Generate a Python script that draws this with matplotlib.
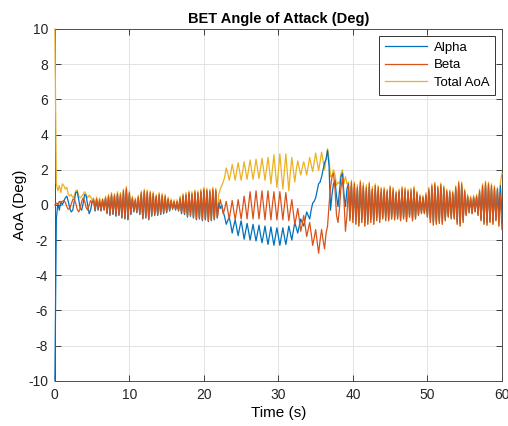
import numpy as np
import matplotlib
matplotlib.use('Agg')
import matplotlib.pyplot as plt

plt.rcParams['font.family'] = ['Liberation Sans', 'DejaVu Sans']
plt.rcParams['axes.unicode_minus'] = False

# sample step of the logged signals (s)
dt = 0.2

# segment A: 0 .. 21.8 s
alpha_a = [-10, -0.8, 0.1, -0.3, 0.2, 0.0, 0.2, 0.4, 0.5, 0.2, -0.2, -0.4, -0.3, 0.2, 0.7, 0.75,
           0.3, -0.2, -0.3, 0.1, 0.6, 0.5, 0.0, -0.5, -0.3, 0.2,
           0.25, -0.35, 0.3, -0.3, 0.2, -0.35, 0.3, -0.25, 0.35, -0.5,
           0.45, -0.6, 0.5, -0.55, 0.5, -0.65, 0.55, -0.6, 0.5, -0.75,
           0.7, -0.8, 0.85, -0.85, 0.6, -0.55, 0.35, -0.4, 0.25, -0.45,
           0.4, -0.55, 0.6, -0.8, 0.7, -0.75, 0.65, -0.85, 0.6, -0.65,
           0.55, -0.6, 0.45, -0.6, 0.5, -0.55, 0.45, -0.5, 0.4, -0.45,
           0.3, -0.35, 0.2, -0.25, 0.15, -0.3, 0.15, -0.35, 0.3, -0.5,
           0.45, -0.55, 0.5, -0.7, 0.6, -0.65, 0.55, -0.75, 0.65, -0.85,
           0.6, -0.8, 0.7, -0.9, 0.8, -0.85, 0.75, -0.95, 0.7, -0.9,
           0.8, -0.85, 0.75, -0.75]
beta_a = [0.0, 0.1, 0.0, 0.2, 0.1, 0.2, 0.25, 0.15, -0.1, -0.25, -0.2, 0.05, 0.3, 0.35, 0.1, -0.25,
          -0.4, -0.2, 0.2, 0.4, 0.2, -0.15, -0.3, 0.0, 0.25, 0.1,
          0.3, -0.3, 0.35, -0.25, 0.3, -0.3, 0.25, -0.3, 0.4, -0.45,
          0.5, -0.55, 0.6, -0.5, 0.55, -0.6, 0.65, -0.55, 0.6, -0.7,
          0.8, -0.75, 0.95, -0.8, 0.7, -0.5, 0.4, -0.35, 0.3, -0.4,
          0.45, -0.5, 0.7, -0.75, 0.8, -0.7, 0.75, -0.8, 0.7, -0.6,
          0.65, -0.55, 0.5, -0.55, 0.6, -0.5, 0.55, -0.45, 0.5, -0.4,
          0.35, -0.3, 0.25, -0.2, 0.2, -0.25, 0.2, -0.3, 0.4, -0.45,
          0.55, -0.5, 0.6, -0.65, 0.7, -0.6, 0.65, -0.7, 0.75, -0.8,
          0.7, -0.75, 0.8, -0.85, 0.9, -0.8, 0.85, -0.9, 0.8, -0.85,
          0.9, -0.8, 0.85, -0.7]
total_a = [10, 1.2, 0.8, 1.1, 0.7, 1.2, 1.1, 0.9, 1.0, 0.6, 0.5, 0.6, 0.4, 0.5, 0.8, 0.85,
           0.5, 0.4, 0.5, 0.6, 0.75, 0.6, 0.4, 0.55, 0.45, 0.3,
           0.4, -0.3, 0.45, -0.25, 0.4, -0.3, 0.35, -0.3, 0.5, -0.45,
           0.6, -0.55, 0.7, -0.5, 0.65, -0.6, 0.75, -0.55, 0.7, -0.7,
           0.9, -0.75, 1.05, -0.8, 0.8, -0.5, 0.5, -0.35, 0.4, -0.4,
           0.55, -0.5, 0.8, -0.75, 0.9, -0.7, 0.85, -0.8, 0.8, -0.6,
           0.75, -0.55, 0.6, -0.55, 0.7, -0.5, 0.65, -0.45, 0.6, -0.4,
           0.45, -0.3, 0.35, -0.2, 0.3, -0.25, 0.3, -0.3, 0.5, -0.45,
           0.65, -0.5, 0.7, -0.65, 0.8, -0.6, 0.75, -0.7, 0.85, -0.8,
           0.8, -0.75, 0.9, -0.85, 1.0, -0.8, 0.95, -0.9, 0.9, -0.85,
           1.0, -0.8, 0.95, -0.7]

# segment B: 22.0 .. 36.8 s (coning phase)
alpha_b = [0.1, -0.2, 0.0, -0.4, -0.7, -1.1, -0.9, -0.7, -1.1, -1.6,
           -1.2, -0.85, -1.3, -1.75, -1.3, -0.9, -1.4, -1.95, -1.5, -1.05,
           -1.5, -2.0, -1.55, -1.1, -1.6, -2.05, -1.6, -1.15, -1.7, -2.15,
           -1.7, -1.2, -1.75, -2.25, -1.75, -1.25, -1.8, -2.3, -1.8, -1.3,
           -1.8, -2.3, -1.8, -1.3, -1.8, -2.25, -1.75, -1.2, -1.6, -2.0,
           -1.5, -1.0, -1.3, -1.6, -1.2, -0.8, -1.0, -1.2, -0.8, -0.4,
           -0.6, -0.8, -0.3, 0.1, 0.2, 0.4, 0.8, 1.2, 1.3, 1.6,
           2.0, 2.4, 2.6, 3.1, 2.2]
beta_b = [-0.2, 0.3, -0.1, -0.5, -0.2, 0.2, -0.3, -0.8, -0.3, 0.25,
          -0.3, -0.85, -0.3, 0.3, -0.25, -0.8, -0.2, 0.5, -0.1, -0.8,
          0.0, 0.75, 0.0, -0.8, 0.0, 0.8, 0.0, -0.8, 0.0, 0.8,
          0.0, -0.85, 0.0, 0.8, 0.0, -0.85, 0.0, 0.75, -0.05, -0.85,
          -0.05, 0.75, -0.05, -0.85, -0.1, 0.7, -0.1, -0.9, -0.3, 0.3,
          -0.4, -1.1, -0.7, -0.2, -0.8, -1.5, -1.1, -0.6, -1.2, -1.8,
          -1.4, -1.0, -1.6, -2.3, -1.9, -1.4, -2.1, -2.75, -2.0, -1.4,
          -2.0, -2.5, -1.6, -1.2, 0.0]
total_b = [0.6, 0.9, 1.1, 1.3, 1.6, 2.1, 1.8, 1.4, 1.8, 2.3,
           1.9, 1.4, 1.9, 2.4, 1.9, 1.4, 1.9, 2.45, 1.95, 1.45,
           2.0, 2.55, 2.0, 1.45, 2.0, 2.6, 2.05, 1.5, 2.05, 2.65,
           2.05, 1.4, 2.0, 2.7, 2.0, 1.2, 2.0, 2.85, 1.9, 1.0,
           1.9, 2.9, 1.9, 0.9, 1.9, 2.9, 1.85, 0.8, 1.8, 2.7,
           2.0, 1.3, 2.0, 2.5, 2.1, 1.7, 2.1, 2.45, 2.1, 1.7,
           2.2, 2.7, 2.3, 1.9, 2.4, 2.95, 2.45, 1.95, 2.45, 3.0,
           2.5, 2.0, 2.6, 3.2, 2.6]

# segment C: 37.0 .. 60.0 s
alpha_c = [-0.3, 0.6, 1.2, 1.4, 0.5, -0.1, 0.8, 1.6, 1.8, 0.6, -0.1, 0.9,
           1.2, -0.7, 1.1, -0.8, 1.0, -0.9, 0.9, -1.0, 1.1, -0.8,
           1.0, -1.0, 0.8, -0.9, 1.0, -0.8, 0.8, -0.9, 0.9, -0.7,
           0.8, -0.8, 0.7, -0.7, 0.8, -0.7, 0.7, -0.8, 0.8, -0.7,
           0.75, -0.7, 0.6, -0.7, 0.7, -0.75, 0.8, -0.7, 0.75, -0.8,
           0.7, -0.6, 0.7, -0.75, 0.8, -0.7, 0.6, -0.5, 0.45, -0.4,
           0.4, -0.45, 0.5, -0.6, 0.75, -0.85, 0.95, -1.0, 1.05, -0.95,
           0.85, -0.9, 1.0, -0.95, 0.85, -0.8, 0.7, -0.6, 0.65, -0.7,
           0.6, -0.7, 0.85, -0.95, 1.1, -1.05, 1.05, -0.85, 0.7, -0.5,
           0.45, -0.4, 0.35, -0.45, 0.4, -0.35, 0.45, -0.5, 0.7, -0.8,
           0.95, -0.95, 1.1, -1.0, 1.05, -0.9, 0.95, -0.95, 0.85, -0.8,
           0.9, -0.6, 1.1, -0.5]
beta_c = [1.0, 1.6, 1.8, 0.9, -0.6, -1.0, -0.2, 1.0, 1.5, 0.3, -1.5, -0.6,
          1.1, -0.9, 1.3, -1.0, 1.2, -1.1, 1.0, -1.2, 1.3, -1.0,
          1.1, -1.2, 1.0, -1.1, 1.2, -1.0, 0.9, -1.1, 1.1, -0.9,
          1.0, -1.0, 0.9, -0.8, 0.9, -0.9, 0.8, -0.9, 1.0, -0.8,
          0.9, -0.85, 0.7, -0.8, 0.8, -0.9, 0.95, -0.8, 0.9, -0.95,
          0.8, -0.7, 0.85, -0.9, 0.95, -0.8, 0.7, -0.6, 0.5, -0.5,
          0.45, -0.5, 0.6, -0.7, 0.9, -1.0, 1.1, -1.15, 1.2, -1.1,
          1.0, -1.05, 1.15, -1.1, 1.0, -0.9, 0.8, -0.7, 0.75, -0.8,
          0.7, -0.8, 1.0, -1.1, 1.25, -1.2, 1.2, -1.0, 0.8, -0.6,
          0.5, -0.45, 0.4, -0.5, 0.45, -0.4, 0.5, -0.6, 0.8, -0.9,
          1.1, -1.1, 1.25, -1.15, 1.2, -1.0, 1.1, -1.1, 1.0, -0.9,
          0.8, -1.2, 0.6, -1.4]
total_c = [1.6, 1.7, 2.0, 1.7, 1.1, 1.3, 1.2, 1.8, 2.0, 1.2, 1.6, 1.2,
           1.3, -0.9, 1.4, -1.0, 1.3, -1.1, 1.15, -1.2, 1.4, -1.0,
           1.25, -1.2, 1.15, -1.1, 1.3, -1.0, 1.05, -1.1, 1.2, -0.9,
           1.1, -1.0, 1.0, -0.8, 1.0, -0.9, 0.9, -0.9, 1.1, -0.8,
           1.0, -0.85, 0.8, -0.8, 0.9, -0.9, 1.05, -0.8, 1.0, -0.95,
           0.9, -0.7, 0.95, -0.9, 1.05, -0.8, 0.8, -0.6, 0.6, -0.5,
           0.55, -0.5, 0.7, -0.7, 1.0, -1.0, 1.2, -1.15, 1.3, -1.1,
           1.1, -1.05, 1.25, -1.1, 1.1, -0.9, 0.9, -0.7, 0.85, -0.8,
           0.8, -0.8, 1.1, -1.1, 1.35, -1.2, 1.3, -1.0, 0.9, -0.6,
           0.6, -0.45, 0.5, -0.5, 0.55, -0.4, 0.6, -0.6, 0.9, -0.9,
           1.2, -1.1, 1.35, -1.15, 1.3, -1.0, 1.2, -1.1, 1.1, -0.9,
           1.0, -1.2, 1.3, 1.8]


def series(start, vals):
    return start + dt * np.arange(len(vals)), np.array(vals)


def join(a, b, c):
    ta, va = series(0.0, a)
    tb, vb = series(22.0, b)
    tc, vc = series(37.0, c)
    return np.concatenate([ta, tb, tc]), np.concatenate([va, vb, vc])


t_al, alpha = join(alpha_a, alpha_b, alpha_c)
t_be, beta = join(beta_a, beta_b, beta_c)
t_to, total = join(total_a, total_b, total_c)

fig = plt.figure(figsize=(5.08, 4.26), dpi=100)
ax = fig.add_axes([0.108, 0.106, 0.880, 0.826])

# lines sit above the spines (and unclipped) so the t=0 jumps show on the left axis
l3, = ax.plot(t_to, total, color='#EDB120', lw=0.9, zorder=2.6, clip_on=False)
l1, = ax.plot(t_al, alpha, color='#0072BD', lw=0.9, zorder=2.7, clip_on=False)
l2, = ax.plot(t_be, beta, color='#D95319', lw=0.9, zorder=2.8, clip_on=False)

ax.set_xlim(0, 60)
ax.set_ylim(-10, 10)
ax.set_xticks(np.arange(0, 61, 10))
ax.set_yticks(np.arange(-10, 11, 2))
ax.grid(True, color='#e3e3e3', lw=0.7)
ax.set_axisbelow(True)
ax.tick_params(direction='in', top=True, right=True, length=4, width=0.6,
               labelsize=10, colors='#262626', pad=5)
for s in ax.spines.values():
    s.set_color('#4d4d4d')
    s.set_linewidth(0.7)

ax.set_title('BET Angle of Attack (Deg)', fontsize=10.5, fontweight='bold', pad=4)
ax.set_xlabel('Time (s)', fontsize=11, labelpad=3)
ax.set_ylabel('AoA (Deg)', fontsize=11, labelpad=1)

leg = ax.legend([l1, l2, l3], ['Alpha', 'Beta', 'Total AoA'], loc='upper right',
                fontsize=9.5, fancybox=False, framealpha=1, edgecolor='#333333',
                handlelength=3.2, borderaxespad=0.5, labelspacing=0.4,
                borderpad=0.45, handletextpad=0.5)
leg.get_frame().set_linewidth(0.7)
leg.set_zorder(5)

fig.savefig('out.png', dpi=100)
